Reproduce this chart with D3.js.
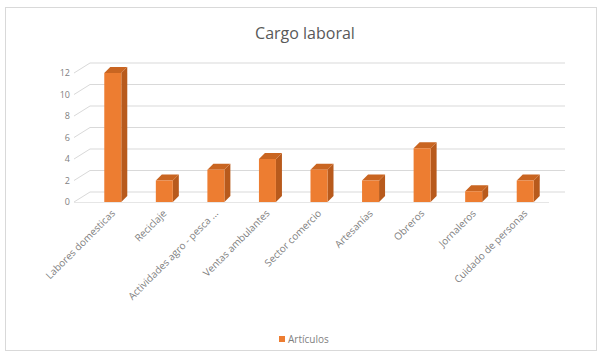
<!DOCTYPE html>
<html><head><meta charset="utf-8">
<script src="https://cdn.jsdelivr.net/npm/d3@7/dist/d3.min.js"></script>
<style>body{margin:0;background:#fff}svg{display:block;font-family:"Open Sans","Liberation Sans",sans-serif}</style>
</head><body><svg id="c" width="599" height="356"></svg>
<script>
const title = "Cargo laboral";
const categories = ["Labores domesticas","Reciclaje","Actividades agro - pesca ...","Ventas ambulantes","Sector comercio","Artesanías","Obreros","Jornaleros","Cuidado de personas"];
const values = [12,2,3,4,3,2,5,1,2];
const yTicks = [0,2,4,6,8,10,12];
const seriesName = "Artículos";

const svg = d3.select("#c");
svg.append("rect").attr("x",5.5).attr("y",7.5).attr("width",591).attr("height",343)
  .attr("fill","#fff").attr("stroke","#d9d9d9");

svg.append("text").attr("x",305).attr("y",39).attr("text-anchor","middle")
  .attr("font-size",16).attr("fill","#595959").text(title);

const y = d3.scaleLinear().domain([0,12]).range([202,73]);
const x = d3.scaleBand().domain(categories).range([87,551]);
const wallDx = 16, wallDy = -10;
const wallLeft = 74, wallRight = 565;

const g = svg.append("g");
yTicks.forEach(t=>{
  g.append("line").attr("x1",wallLeft+wallDx).attr("x2",wallRight)
    .attr("y1",y(t)+wallDy).attr("y2",y(t)+wallDy).attr("stroke","#d9d9d9");
  g.append("line").attr("x1",wallLeft).attr("x2",wallLeft+wallDx)
    .attr("y1",y(t)).attr("y2",y(t)+wallDy).attr("stroke","#d9d9d9");
});
g.append("line").attr("x1",wallLeft).attr("x2",wallRight-wallDx).attr("y1",y(0)+0.5).attr("y2",y(0)+0.5).attr("stroke","#e6e6e6");

svg.append("g").selectAll("text").data(yTicks).join("text")
  .attr("x",70).attr("y",t=>y(t)+3).attr("text-anchor","end")
  .attr("font-size",9).attr("fill","#7f7f7f").text(d=>d);

const bw = 17, dx = 6, dy = -6;
const bars = svg.append("g").selectAll("g").data(categories.map((c,i)=>({c,v:values[i]}))).join("g");
bars.each(function(d){
  const gg = d3.select(this);
  const x0 = x(d.c) + x.bandwidth()/2 - bw/2, x1 = x0 + bw;
  const yt = y(d.v), yb = y(0);
  gg.append("polygon").attr("points",[[x1,yt],[x1+dx,yt+dy],[x1+dx,yb+dy],[x1,yb]].join(" ")).attr("fill","#b85a1c");
  gg.append("polygon").attr("points",[[x0,yt],[x0+dx,yt+dy],[x1+dx,yt+dy],[x1,yt]].join(" ")).attr("fill","#c96521");
  gg.append("rect").attr("x",x0).attr("y",yt).attr("width",bw).attr("height",yb-yt).attr("fill","#ed7d31");
});

svg.append("g").selectAll("text").data(categories).join("text")
  .attr("transform",c=>`translate(${x(c)+x.bandwidth()/2+3},${214}) rotate(-45)`)
  .attr("text-anchor","end").attr("font-size",10).attr("fill","#7f7f7f").text(c=>c);

svg.append("rect").attr("x",279).attr("y",336).attr("width",6).attr("height",6).attr("fill","#ed7d31");
svg.append("text").attr("x",288).attr("y",342.5).attr("font-size",10).attr("fill","#7f7f7f").text(seriesName);
</script></body></html>
